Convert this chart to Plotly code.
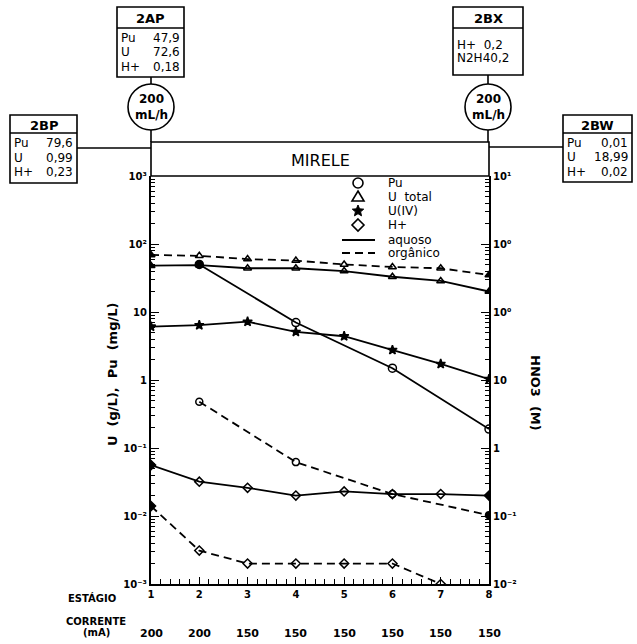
import math
import plotly.graph_objects as go

# ---------------- data ----------------
stages = [1, 2, 3, 4, 5, 6, 7, 8]
stage_labels = ["1", "2", "3", "4", "5", "6", "7", "8"]
currents = ["200", "200", "150", "150", "150", "150", "150", "150"]

u_total_aq = [48, 49, 44, 44, 40, 33, 28.6, 20]
u_total_org = [69, 67, 60, 57, 50, 46, 44, 35]
u4_aq = [6.1, 6.4, 7.2, 5.1, 4.4, 2.76, 1.72, 1.03]
pu_aq_stages = [2, 4, 6, 8]
pu_aq = [50, 7.0, 1.49, 0.19]
pu_org_stages = [2, 4, 6, 8]
pu_org = [0.48, 0.062, 0.021, 0.0103]
h_aq = [0.056, 0.032, 0.026, 0.020, 0.023, 0.021, 0.021, 0.020]
h_org_stages = [1, 2, 3, 4, 5, 6, 7]
h_org = [0.014, 0.0031, 0.002, 0.002, 0.002, 0.002, 0.001]

left_tickvals = [1000, 100, 10, 1, 0.1, 0.01, 0.001]
left_ticktext = ["10³", "10²", "10", "1", "10⁻¹", "10⁻²", "10⁻³"]
right_ticktext = ["10¹", "10⁰", "10⁰", "10", "1", "10⁻¹", "10⁻²"]

box_2ap = ("2AP", [("Pu", "47,9"), ("U", "72,6"), ("H+", "0,18")])
box_2bp = ("2BP", [("Pu", "79,6"), ("U", "0,99"), ("H+", "0,23")])
box_2bx = ("2BX", ["H+  0,2", "N2H40,2"])
box_2bw = ("2BW", [("Pu", "0,01"), ("U", "18,99"), ("H+", "0,02")])
flow_text = "200<br>mL/h"
title_text = "MIRELE"
legend_items = [("circle", "Pu"), ("triangle", "U  total"), ("star", "U(IV)"), ("diamond", "H+")]

# ---------------- geometry helpers ----------------
W, H = 637, 644
X0, X1, Y0, Y1 = 151, 489, 176, 584


def px(x):
    return (x - X0) / (X1 - X0)


def py(y):
    return (Y1 - y) / (Y1 - Y0)


FONT = "DejaVu Sans"
BLACK = "#000000"
DASH = "8px,5px"

fig = go.Figure()


def end_filled(n, sym, filled_idx):
    return [sym if i in filled_idx else sym + "-open" for i in range(n)]


def add_series(x, y, dash, sym, filled_idx, size=7):
    fig.add_trace(go.Scatter(
        x=x, y=y, mode="lines+markers", showlegend=False,
        line=dict(color=BLACK, width=1.8, dash=dash),
        marker=dict(symbol=end_filled(len(x), sym, filled_idx), size=size,
                    color=BLACK, line=dict(color=BLACK, width=1.5)),
    ))


add_series(stages, u_total_org, DASH, "triangle-up", [0, 7])
add_series(stages, u_total_aq, "solid", "triangle-up", [0, 7])
add_series(stages, u4_aq, "solid", "star", [0, 1, 2, 3, 4, 5, 6, 7])
add_series(pu_aq_stages, pu_aq, "solid", "circle", [0], size=8)
add_series(pu_org_stages, pu_org, DASH, "circle", [3])
add_series(stages, h_aq, "solid", "diamond", [0, 7])
add_series(h_org_stages, h_org, DASH, "diamond", [0])

# invisible trace for right axis
fig.add_trace(go.Scatter(x=[1], y=[1], yaxis="y2", mode="markers",
                         marker=dict(opacity=0), showlegend=False, hoverinfo="skip"))

minor_vals = [k * 10 ** e for e in range(-3, 3) for k in range(2, 10)]
TICKFONT = dict(size=10, family=FONT, color=BLACK, weight="bold")

fig.update_layout(
    width=W, height=H,
    margin=dict(l=X0, r=W - X1, t=Y0, b=H - Y1, pad=0),
    paper_bgcolor="white", plot_bgcolor="white",
    font=dict(family=FONT, color=BLACK, size=11),
    showlegend=False,
    xaxis=dict(range=[1, 8], tickvals=stages, ticktext=stage_labels,
               ticks="inside", ticklen=7, tickwidth=1.4, tickcolor=BLACK,
               showline=True, linecolor=BLACK, linewidth=2.2, showgrid=False,
               zeroline=False, tickfont=TICKFONT,
               minor=dict(dtick=0.2, ticks="inside", ticklen=5, tickwidth=1.3,
                          tickcolor=BLACK, showgrid=False)),
    yaxis=dict(type="log", range=[-3, 3], tickvals=left_tickvals,
               ticktext=left_ticktext, ticks="inside", ticklen=8, tickwidth=1.4,
               tickcolor=BLACK, showline=True, linecolor=BLACK, linewidth=2.2,
               showgrid=False, zeroline=False, tickfont=TICKFONT,
               minor=dict(tickvals=minor_vals, ticks="inside", ticklen=4,
                          tickwidth=1.2, tickcolor=BLACK, showgrid=False)),
    yaxis2=dict(type="log", range=[-3, 3], overlaying="y", side="right",
                tickvals=left_tickvals, ticktext=right_ticktext, ticks="inside",
                ticklen=8, tickwidth=1.4, tickcolor=BLACK, showline=True,
                linecolor=BLACK, linewidth=2.2, showgrid=False, zeroline=False,
                tickfont=TICKFONT,
                minor=dict(tickvals=minor_vals, ticks="inside", ticklen=4,
                           tickwidth=1.2, tickcolor=BLACK, showgrid=False)),
)

shapes = []
annotations = []


def line(x0, y0, x1, y1, w=1.6, dash="solid"):
    shapes.append(dict(type="line", xref="paper", yref="paper",
                       x0=px(x0), y0=py(y0), x1=px(x1), y1=py(y1),
                       line=dict(color=BLACK, width=w, dash=dash)))


def rect(x0, y0, x1, y1, w=1.6):
    shapes.append(dict(type="rect", xref="paper", yref="paper",
                       x0=px(x0), y0=py(y0), x1=px(x1), y1=py(y1),
                       line=dict(color=BLACK, width=w)))


def circle(cx, cy, r, w=1.6, fill=None):
    d = dict(type="circle", xref="paper", yref="paper",
             x0=px(cx - r), y0=py(cy - r), x1=px(cx + r), y1=py(cy + r),
             line=dict(color=BLACK, width=w))
    if fill:
        d["fillcolor"] = fill
    shapes.append(d)


def poly(points, w=1.6, fill=None):
    p = "M " + " L ".join("%.5f,%.5f" % (px(x), py(y)) for x, y in points) + " Z"
    d = dict(type="path", xref="paper", yref="paper", path=p,
             line=dict(color=BLACK, width=w))
    if fill:
        d["fillcolor"] = fill
    shapes.append(d)


def text(x, y, s, size=11, xanchor="center", yanchor="middle", angle=0, bold=False):
    annotations.append(dict(xref="paper", yref="paper", x=px(x), y=py(y),
                            text=("<b>%s</b>" % s) if bold else s, showarrow=False,
                            xanchor=xanchor, yanchor=yanchor, textangle=angle,
                            font=dict(size=size, family=FONT, color=BLACK)))


def stream_box(x0, y0, x1, y1, sep, data):
    name, rows = data
    rect(x0, y0, x1, y1)
    line(x0, sep, x1, sep)
    text((x0 + x1) / 2, (y0 + sep) / 2 + 1, name, size=13, bold=True)
    ry = sep + 10
    step = (y1 - sep - 6) / 3
    for row in rows:
        text(x0 + 2, ry, row[0], size=12, xanchor="left")
        text(x1 - 2, ry, row[1], size=12, xanchor="right")
        ry += step


def legend_symbol(kind, cx, cy, r=5):
    if kind == "circle":
        circle(cx, cy, r)
    elif kind == "triangle":
        poly([(cx, cy - r - 1), (cx + r + 1, cy + r - 1), (cx - r - 1, cy + r - 1)])
    elif kind == "diamond":
        poly([(cx, cy - r - 1), (cx + r + 1, cy), (cx, cy + r + 1), (cx - r - 1, cy)])
    elif kind == "star":
        pts = []
        for i in range(10):
            rr = r + 1 if i % 2 == 0 else (r + 1) * 0.45
            a = -math.pi / 2 + i * math.pi / 5
            pts.append((cx + rr * math.cos(a), cy + rr * math.sin(a)))
        poly(pts, w=1, fill=BLACK)


# MIRELE header box
rect(X0, 142, X1, Y0)
text((X0 + X1) / 2, 161, title_text, size=16)

# left feed column
circle(151, 107, 23)
line(151, 77, 151, 84)
line(151, 130, 151, 142)
text(151, 107, flow_text, size=12, bold=True)
stream_box(117, 7, 184, 77, 28, box_2ap)
stream_box(10, 115, 77, 183, 133, box_2bp)
line(77, 148, 151, 148)

# right feed column
circle(488, 107, 23)
line(488, 75, 488, 84)
line(488, 130, 488, 142)
text(488, 107, flow_text, size=12, bold=True)
stream_box(453, 7, 523, 75, 28, (box_2bx[0], []))
text(455, 45, box_2bx[1][0], size=12, xanchor="left")
text(455, 58, box_2bx[1][1], size=12, xanchor="left")
stream_box(563, 115, 632, 182, 133, box_2bw)
line(489, 147, 563, 147)

# legend
ly = 183
for kind, lab in legend_items:
    legend_symbol(kind, 358, ly)
    text(386, ly, lab, size=12, xanchor="left")
    ly += 14
line(342, 240, 375, 240, w=1.8)
text(386, 240, "aquoso", size=12, xanchor="left")
line(342, 253, 375, 253, w=1.8, dash=DASH)
text(386, 253, "orgânico", size=12, xanchor="left")

# axis titles
text(112, 375, "U  (g/L),  Pu  (mg/L)", size=13, angle=-90, bold=True)
text(536, 393, "HNO3  (M)", size=13, angle=90, bold=True)

# bottom labels
text(92, 598, "ESTÁGIO", size=10, bold=True)
text(96, 621, "CORRENTE", size=10, bold=True)
text(96, 632, "(mA)", size=10, bold=True)
for s, c in zip(stages, currents):
    annotations.append(dict(xref="x", yref="paper", x=s, y=py(633), text="<b>%s</b>" % c,
                            showarrow=False, xanchor="center", yanchor="middle",
                            font=dict(size=11, family=FONT, color=BLACK)))

fig.update_layout(shapes=shapes, annotations=annotations)
fig.write_html("out.html")
